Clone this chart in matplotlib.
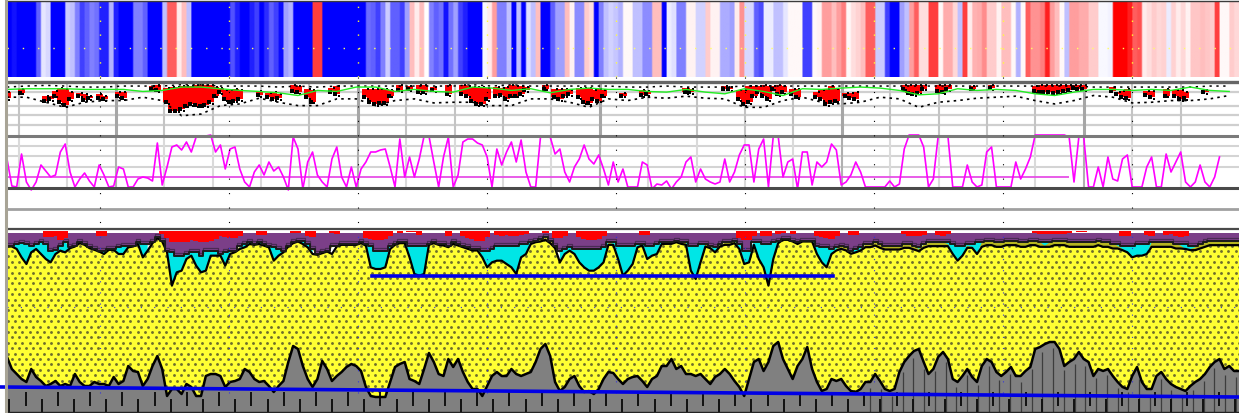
import numpy as np
import matplotlib
matplotlib.use("Agg")
import matplotlib.pyplot as plt

# ---------- DATA (all per bin unless noted) ----------
stripes = [
 -4,-3.7,-4,-4,-4,-4,-2.5,-.4,-.6,-4,
 -4,-4,-.8,-1,-2,-3,-2.5,-2,-2.2,-3.5,
 -3.5,-1.2,-3.5,-4,-4,-4,-2,-2,-2.5,-4,
 -4,-4,-1,2.5,2.5,.3,1,-1,-4,-4,
 -4,-4,-4,-4,-4,-4,-2.7,-3.5,-4,-4,
 -3.5,-3,-4,-3.3,-2.5,-3,-3.8,-1.5,-1.2,-4,
 -4,-4,-4,3,3,-4,-4,-4,-4,-4,
 -4,-4,-4,-4,-2.3,-2.5,-3,-2,-.8,-2.5,
 -2.5,-3,-1.5,1,.3,1,0,-2,-2.5,-2.2,
 -3.7,-2.2,-1.5,-3,-3.5,-4,-4,-4,-.1,.3,
 1.5,-2,-2,-1,-4,-1,-4,-.5,-1,1,
 -4,-4,-2.5,-1.5,-1.5,1,.2,-1.8,-1.8,.8,
 .5,-4,-2,-1,-.7,-.9,-1.2,.1,.1,-1,
 -1,-1.8,-1.8,1,1,-4,-.3,-.5,-2,-2,
 .2,.2,-.7,-.7,.8,.2,.2,-1.3,-1.3,-1.5,
 .3,1.7,-.6,-.6,-2.5,-2.8,-.3,-.3,-1,-1,
 -.4,.1,.1,.1,-3,-3,.1,.2,1.5,1.5,
 1,1.5,2,.1,.5,.7,1,2.5,2.5,-.8,
 -.8,-3,-4,-4,-1.5,-1,1.5,2.5,.5,.5,
 3,3,.1,1.3,1.3,.6,-1,3,.3,1.2,
 1.3,1.8,.8,.8,.2,1,1,.1,-1.2,.1,
 2.5,1.7,1.7,2,3.5,1.5,1,.1,-1,1.5,
 1.5,1.3,1.3,.8,.8,-.1,-.1,-.2,4,4,
 4,3.5,2.5,2.7,.3,.5,.8,.6,.7,-.3,
 .7,.3,.6,.2,.9,.9,1,.9,.8,3,
 .1,.1,.8,.6]

index_line = [
 28,1,0,33,5,-3,5,22,16,10, 12,35,43,15,0,8,14,6,0,22,
 12,0,1,20,18,0,0,8,10,9, 6,44,2,20,40,42,37,45,35,50,
 50,51,52,35,42,18,38,40,18,5, 0,15,22,12,25,16,20,10,-3,50,
 38,-2,25,35,12,5,0,28,40,10, 0,20,0,18,25,35,35,37,38,20,
 0,48,10,30,10,28,51,51,25,0, 30,50,0,12,45,48,48,44,42,30,
 0,38,22,35,45,25,47,15,0,0, 50,51,50,33,38,15,5,20,28,42,
 28,23,32,18,2,25,5,18,0,0, 0,25,22,-2,3,2,6,-2,5,10,
 25,30,5,18,8,5,3,5,28,5, 15,32,42,42,5,38,48,0,51,51,
 10,25,28,-2,35,35,2,25,20,25, 43,37,2,5,12,25,15,0,0,0,
 0,0,6,0,3,38,52,52,52,40, 0,8,51,51,51,0,0,0,22,5,
 0,2,35,40,0,0,0,0,25,8, 18,30,52,52,52,52,52,52,52,50,
 5,50,50,0,0,20,0,30,8,6, 28,32,0,0,0,20,30,0,0,33,
 15,25,35,5,0,5,22,5,0,10, 30]
index_mean = 10

red_low = [
 298,0,0,282,0,0,0,0,305,300, 290,310,318,300,0,290,302,298,0,298,
 300,0,0,292,298,0,0,0,0,0, 270,274,0,310,335,335,330,320,315,318,
 320,318,310,290,280,300,308,305,300,0, 0,0,288,0,295,300,298,0,0,278,
 280,0,295,308,0,0,0,280,285,0, 0,0,0,0,295,310,315,312,312,290,
 0,275,0,272,0,280,280,0,275,0, 0,285,0,0,285,290,305,315,315,300,
 0,290,288,300,290,290,285,275,0,0, 0,270,0,295,300,290,285,0,295,310,
 312,300,305,290,0,0,0,290,0,0, 0,288,285,0,0,0,0,0,0,0,
 280,280,0,0,0,0,0,0,270,272, 0,300,315,310,290,280,290,300,270,285,
 280,0,285,295,0,0,0,295,300,315, 310,305,0,290,297,300,0,0,0,0,
 0,0,0,0,0,270,282,285,282,270, 0,0,278,280,272,0,0,0,0,270,
 0,0,0,268,0,0,0,0,0,0, 0,0,278,280,280,280,282,280,278,275,
 268,270,272,0,0,0,0,0,278,285, 295,298,0,0,0,288,295,0,0,290,
 0,290,300,298,0,0,0,280,0,0,0,0,0,0]
red_high = [
 280,0,0,270,0,0,0,0,290,292, 278,268,270,280,0,282,285,290,0,285,
 290,0,0,280,280,0,0,0,0,0, 262,260,0,268,265,265,263,263,263,260,
 260,260,260,265,268,275,275,270,275,0, 0,0,278,0,282,280,285,0,0,258,
 262,0,270,275,0,0,0,268,262,0, 0,0,0,0,270,272,272,270,272,275,
 0,258,0,262,0,258,258,0,265,0, 0,258,0,0,258,262,265,265,265,268,
 0,265,268,265,260,262,262,265,0,0, 0,258,0,272,272,272,275,0,268,268,
 268,275,272,275,0,0,0,282,0,0, 0,275,278,0,0,0,0,0,0,0,
 268,270,0,0,0,0,0,0,262,265, 0,275,275,262,262,262,258,262,262,258,
 262,0,272,272,0,0,0,280,275,272, 262,270,0,282,282,280,0,0,0,0,
 0,0,0,0,0,258,258,258,258,258, 0,0,258,258,258,0,0,0,0,262,
 0,0,0,258,0,0,0,0,0,0, 0,0,262,258,258,258,258,258,258,258,
 260,258,258,0,0,0,0,0,265,280, 278,272,0,0,0,278,278,0,0,272,
 0,275,275,280,0,0,0,275,0,0,0,0,0,0]

# sampled every 4th bin
green_line = [272,270,270,270,272,272,272,278,275,265,265,270,275,278,282,290,
 275,278,265,265,278,272,278,280,265,268,275,270,282,272,268,272,
 272,278,280,272,280,285,270,278,290,270,272,268,265,268,275,288,
 285,270,275,272,275,285,290,280,272,272,275,272,275,265,275,278]
lower_band = [295,295,310,325,310,305,305,295,305,350,345,320,315,298,310,320,
 320,300,300,320,305,300,312,310,310,320,320,300,300,310,325,300,
 305,295,298,292,298,300,325,325,305,295,310,315,310,295,300,325,
 310,305,298,295,292,305,315,305,290,295,312,310,305,305,300,290]
upper_band = [265,262,260,262,265,265,262,262,262,258,258,262,262,262,265,262,
 265,262,262,262,262,262,262,262,258,262,258,262,262,262,262,262,
 265,265,262,265,265,265,262,262,262,262,262,262,262,262,262,262,
 262,262,262,262,262,262,262,262,265,265,265,265,265,265,262,262]

gray_height = [
 56,44,39,34,31,44,36,32,27,29, 32,27,29,27,39,31,27,27,31,29,
 29,27,36,29,32,47,42,41,27,34, 47,57,44,17,24,24,19,29,26,17,
 17,37,39,39,37,26,31,32,34,44, 41,34,31,32,27,21,27,32,51,67,
 64,47,34,26,34,52,44,32,37,41, 46,49,47,42,26,17,16,16,16,31,
 46,49,51,34,32,29,
 44,60,51,39,37,54,46,54,41,31, 24,24,17,27,37,41,37,37,44,39,
 37,39,41,51,64,69,57,31,22,26, 34,37,27,21,22,19,24,34,41,40,
 34,29,34,36,37,32,26,34,37,47, 47,54,44,47,39,39,37,39,34,29,
 36,39,44,39,32,26,17,34,51,54, 42,51,67,71,54,44,34,47,54,66,
 44,31,22,24,
 34,32,34,27,22,21,24,31,31,39, 32,24,22,24,41,51,57,62,64,51,
 39,44,56,61,54,34,31,37,44,36, 31,47,54,51,41,37,41,46,37,37,
 42,46,64,66,69,71,71,64,47,51, 54,61,54,51,37,44,42,44,37,31,
 26,24,37,46,31,24,24,37,41,34, 29,26,24,22,27,31,34,39,46,51,
 54,44,47,42]

purple_low = [
 135,135,130,128,130,135,130,125,130,150, 148,135,125,140,135,125,130,140,145,150,
 150,145,145,140,135,135,135,125,130,130, 125,110,120,150,155,165,165,160,155,155,
 165,150,150,150,160,155,150,150,135,130, 125,130,125,130,135,140,145,150,135,125,
 120,120,130,145,160,155,150,135,135,130, 130,130,130,125,130,135,150,150,150,135,
 130,125,125,135,135,135,
 135,130,125,130,130,135,125,130,135,140, 145,145,150,150,145,135,135,135,135,135,
 130,130,125,120,115,110,120,135,150,145, 140,145,145,145,145,145,145,140,125,125,
 135,135,135,135,130,130,135,135,130,125, 125,125,120,125,125,135,135,130,130,135,
 140,130,125,125,120,130,150,150,125,125, 130,130,125,120,115,115,120,125,120,120,
 120,135,140,140,
 145,140,135,140,150,145,140,130,130,125, 130,135,135,135,135,130,130,135,140,130,
 125,125,125,125,125,130,135,135,130,130, 125,125,120,120,125,125,120,120,120,125,
 125,120,120,125,125,125,120,120,120,125, 125,125,125,125,125,120,125,125,130,130,
 135,135,135,130,130,130,125,125,125,125, 125,130,130,130,135,135,130,125,120,120,
 120,120,120,120]
cyan_low = [
 135,140,150,175,195,160,150,165,180,190, 165,155,160,145,135,130,135,145,150,155,
 165,150,150,165,165,145,140,135,175,155, 125,110,125,160,260,220,215,180,170,200,
 220,215,170,170,165,200,165,150,150,145, 135,135,135,140,145,185,170,160,135,125,
 125,135,145,165,160,145,145,165,135,135, 130,130,130,125,140,205,210,210,205,150,
 130,125,130,175,225,230,
 225,135,130,135,135,140,130,135,140,145, 150,150,175,205,190,185,185,195,205,225,
 175,165,135,125,115,110,125,135,190,165, 155,165,190,205,215,215,205,190,130,135,
 180,230,215,195,145,135,180,170,165,135, 130,130,125,125,130,215,240,190,135,140,
 160,135,130,130,125,150,195,190,135,180, 205,260,180,125,120,120,125,135,125,125,
 125,165,190,205,
 165,150,140,145,160,160,150,135,135,130, 135,140,140,140,140,135,135,140,150,135,
 130,130,130,130,135,165,185,170,140,145, 165,130,125,125,130,130,125,125,125,130,
 130,125,125,130,140,130,125,125,125,130, 130,130,130,130,130,125,130,130,135,140,
 150,160,175,170,170,165,130,130,130,130, 130,135,140,150,150,145,135,130,125,125,
 125,125,125,125]
red_cap = [
 0,0,0,0,0,0,0,0,115,115, 112,122,118,0,0,0,0,0,0,110,
 110,0,0,0,0,0,0,0,0,0, 0,0,105,118,128,130,130,128,122,125,
 128,128,125,120,112,115,118,118,110,0, 0,0,108,108,0,0,0,0,0,102,
 102,0,112,115,0,0,0,103,105,0, 0,0,0,0,118,120,122,122,120,110,
 0,102,0,100,100,108,0,0,0,0, 0,112,0,0,112,118,120,125,125,115,
 0,108,110,108,110,112,108,104,0,0, 0,102,0,118,118,112,0,0,115,120,
 122,122,120,112,0,0,0,0,0,0, 0,108,108,0,0,0,0,0,0,0,
 0,0,0,0,0,0,0,0,0,0, 0,118,122,122,112,0,110,112,0,105,
 102,0,105,0,0,0,0,112,115,118, 120,112,0,0,108,108,0,0,0,0,
 0,0,0,0,0,105,112,110,110,108, 0,0,108,110,104,0,0,0,0,0,
 0,0,0,0,0,0,0,0,0,0, 0,0,102,105,105,105,106,105,104,102,
 0,100,100,0,0,0,0,0,0,0, 110,112,0,0,0,108,110,0,0,108,
 106,110,113,112,0,0,0,0,0,0, 0,0,0,0]
# per 10 bins
olive_by_decade = [3,3,3,3,5,3,3,3,3,5,5,8,8,5,8,8,3,10,12,12,14,14,14,14,14,14]

# trend lines
upper_trend_bins, upper_trend_level = [75.3, 170.4], [137, 137]
lower_trend_bins, lower_trend_level = [-1.1, 254], [26, 16]

# ---------- LAYOUT ----------
W, H = 1239, 414
fig = plt.figure(figsize=(W / 100, H / 100), dpi=100, facecolor="white")


def panel(y0, y1, ylim, z=1):
    ax = fig.add_axes([6 / W, 1 - y1 / H, (W - 6) / W, (y1 - y0) / H], zorder=z)
    ax.set_xlim(-1 / 4.85, (W - 7) / 4.85)
    ax.set_ylim(*ylim)
    ax.axis("off")
    ax.patch.set_alpha(0)
    return ax


bins = np.arange(254)
major = [(100 - 7) / 4.85 + i * 129 / 4.85 for i in range(9)]
grid_bins = [(19 - 7) / 4.85 + i * 48.4 / 4.85 for i in range(25)]

# --- stripes ---
ax = panel(3, 78, (0, 1))
ax.imshow(np.repeat(np.array(stripes, float), 3)[None, :], extent=(0, 254, 0, 1), aspect="auto",
          cmap="bwr", vmin=-4, vmax=4, interpolation="bilinear")
ax.set_xlim(-1 / 4.85, (W - 7) / 4.85)
ax.set_ylim(0, 1)
ax.vlines(major, 0, 1, colors="#ffff33", lw=1, linestyles=(0, (1, 9)))
ax.hlines(0.39, 0, 254, colors="#ffff66", lw=1, linestyles=(0, (1, 10)))

# --- drought panel ---
ax = panel(83, 137, (410, 250))
for y in [280, 320, 348, 378]:
    ax.axhline(y, color="#cfcfcf", lw=1.6, zorder=1)
for k, g in enumerate(grid_bins):
    ax.axvline(g, color="#a6a6a6" if k % 5 == 2 else "#c4c4c4", lw=2.2 if k % 5 == 2 else 1.5, zorder=1)
rl, rh = np.array(red_low, float), np.array(red_high, float)
m = rl > 0
ax.bar(bins[m], (rl - rh)[m], bottom=rh[m], width=1.5, color="#ff0000", zorder=3)
ax.scatter(bins[m] - .3, rl[m], s=5, marker="s", color="black", lw=0, zorder=4)
ax.scatter(bins[m] + .4, rl[m] + 5, s=3, marker="s", color="black", lw=0, zorder=4)
ax.scatter(bins[m] + .4, rh[m], s=2.5, marker="s", color="black", lw=0, zorder=4)
sparse = bins[::4][:64]
ax.plot(sparse, lower_band, color="black", lw=1.2, ls=(0, (1.5, 2.5)), zorder=4)
ax.plot(sparse, upper_band, color="black", lw=1.1, ls=(0, (1.5, 3)), zorder=4)
ax.plot(sparse, green_line, color="#22ee22", lw=1.0, zorder=5)

# --- index panel ---
ax = panel(137, 188, (0, 51))
for y in [41, 31, 20]:
    ax.axhline(y, color="#d4d4d4", lw=1.5, zorder=1)
for k, g in enumerate(grid_bins):
    ax.axvline(g, color="#b0b0b0" if k % 5 == 2 else "#dadada", lw=1.5, zorder=1)
ax.plot(np.arange(len(index_line)), index_line, color="#ff00ff", lw=1.2, clip_on=False, zorder=4)
ax.hlines(index_mean, 0, 219, color="#e64fe6", lw=1.3, zorder=3)

# --- lower stacked panel ---
ax = panel(230, 414, (0, 184))
to_h = lambda z: (642 - np.asarray(z, float)) / 3
pur, cya = to_h(purple_low) - 1.5, to_h(cyan_low)
olive = pur - np.repeat(olive_by_decade, 10)[:254] / 3
gray = np.array(gray_height, float)
low_env = np.minimum(cya, olive)
xr = np.r_[bins, 254]
ext = lambda a: np.r_[a, a[-1]]
ax.fill_between(xr, ext(olive), ext(pur), color="#b5b520", lw=0, zorder=2)
ax.fill_between(xr, ext(cya), ext(pur), where=ext(cya) < ext(pur) + 1, color="#00e6e6", lw=0, zorder=3)
ax.fill_between(xr, ext(pur), 180, color="#7b3f88", lw=0, step="mid", zorder=4)
ax.step(xr, ext(pur) + 3, where="mid", color="#4a2a55", lw=0.9, zorder=5)
ax.step(xr, ext(pur), where="mid", color="#1a1a1a", lw=1.4, zorder=6)
caps = np.array(red_cap, float)
m = caps > 0
ax.bar(bins[m], to_h(caps)[m] - to_h(96), bottom=to_h(96), width=1.3, color="#ff0000", zorder=7, lw=0)
yellow = ax.fill_between(xr, ext(gray), ext(low_env), color="#ffff33", lw=0, zorder=1.5)
gx, gy = np.meshgrid(np.arange(-2, 256, 7.2 / 4.85), np.arange(0, 184, 5.4))
gx = gx + (np.arange(gx.shape[0])[:, None] % 2) * 3.6 / 4.85
dots = ax.scatter(gx.ravel(), gy.ravel(), s=4.2, color="#6e6e2c", lw=0, zorder=1.6)
dots.set_clip_path(yellow.get_paths()[0], ax.transData)
ax.fill_between(xr, 0, ext(gray), color="#808080", lw=0, zorder=1.8)
ax.plot(xr, ext(gray), color="black", lw=1.8, zorder=2.2)
ax.plot(xr, ext(low_env), color="black", lw=1.6, zorder=3.5)
# comb of ticks along the foot
comb = np.arange(0.5, 254, 16.13 / 4.85)
ax.vlines(comb[::2], 0, 14, color="#111111", lw=1.4, zorder=2.1)
ax.vlines(comb[1::2], 7, 21, color="#111111", lw=1.4, zorder=2.1)
rc = np.arange(178, 254, 10.75 / 4.85)
ax.vlines(rc, 0, np.interp(rc, bins, gray) - 6, color="#3d3d3d", lw=0.9, zorder=2.05)
ax.plot(upper_trend_bins, upper_trend_level, color="#0000e6", lw=2.6, zorder=8)
ax.plot(lower_trend_bins, lower_trend_level, color="#0000e6", lw=2.6, zorder=8, clip_on=False)
ax.hlines(106, 0, 254, color="#3333dd", lw=0.8, linestyles=(0, (1, 11)), zorder=7)
ax.vlines(major, 20, 184, color="#3333dd", lw=0.8, linestyles=(0, (1, 9)), zorder=7)

# --- frame lines over everything ---
fr = fig.add_axes([0, 0, 1, 1], zorder=20)
fr.set_xlim(0, W); fr.set_ylim(H, 0); fr.axis("off"); fr.patch.set_alpha(0)
fr.hlines([2, 83, 137, 188.5, 209.5, 229.5, 413], 5, W,
          colors=["#3c3c3c", "#666666", "#7a7a7a", "#4a4a4a", "#a0a0a0", "#4a4a4a", "#222222"],
          lw=[1, 2.4, 2.2, 2.2, 2, 1.6, 1])
fr.vlines(5.5, 0, H, color="#a8a496", lw=2.2)
fr.vlines([100 + 129 * i for i in range(9)], 78, 230, color="black", lw=0.8, linestyles=(0, (1, 12)))

fig.savefig("out.png", dpi=100, facecolor="white")
